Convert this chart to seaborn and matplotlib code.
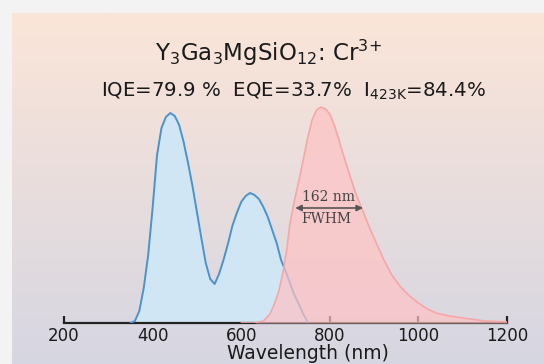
import numpy as np
import pandas as pd
import matplotlib
matplotlib.use("Agg")
import matplotlib.pyplot as plt
import seaborn as sns

# excitation-like (blue) band, wavelength in nm, intensity in a.u.
blue_nm = [350, 360, 370, 380, 390, 400, 410, 420, 430, 440, 450, 460, 470, 480, 490,
           500, 510, 520, 530, 540, 550, 560, 570, 580, 590, 600, 610, 620, 630, 640,
           650, 660, 670, 680, 690, 700, 710, 720, 730, 740, 750]
blue_int = [0, 2, 12, 35, 68, 115, 168, 195, 206, 210, 207, 198, 181, 160, 137,
            111, 85, 60, 44, 39, 49, 63, 79, 97, 110, 121, 127, 130, 128, 124,
            116, 106, 93, 80, 63, 52, 40, 28, 19, 9, 1]

# emission (red) band
red_nm = [600, 630, 650, 665, 675, 685, 695, 703, 710, 720, 730, 740, 750, 760, 770,
          780, 790, 800, 810, 820, 830, 840, 850, 860, 870, 880, 890, 900, 920, 940,
          960, 980, 1000, 1020, 1040, 1070, 1100, 1150, 1200]
red_int = [0, 0, 2, 9, 19, 32, 52, 74, 99, 122, 142, 163, 185, 203, 213,
           216, 214, 209, 198, 184, 169, 155, 141, 128, 117, 106, 95, 85, 65, 48,
           36, 27, 20, 14, 10, 7, 5, 2, 1]

x_ticks = [200, 400, 600, 800, 1000, 1200]

df_blue = pd.DataFrame({"wl": blue_nm, "I": blue_int})
df_red = pd.DataFrame({"wl": red_nm, "I": red_int})

sns.set_theme(style="white")
plt.rcParams["font.family"] = ["DejaVu Sans"]
plt.rcParams["mathtext.default"] = "regular"

fig = plt.figure(figsize=(5.44, 3.64), dpi=100, facecolor="#f3f3f3")

# gradient panel behind the plot
bg = fig.add_axes([11.5 / 544, 0, 1 - 11.5 / 544, (364 - 13) / 364], zorder=-1)
top = np.array([251, 229, 216]) / 255
bot = np.array([214, 214, 226]) / 255
t = np.linspace(0, 1, 200)[:, None]
grad = (top * (1 - t) + bot * t)[:, None, :]
bg.imshow(grad, aspect="auto", extent=[0, 1, 0, 1])
bg.set_axis_off()

ax = fig.add_axes([64 / 544, 41 / 364, 443 / 544, 263 / 364])
ax.set_facecolor("none")

ax.fill_between(df_blue["wl"], df_blue["I"], color="#d0e6f5", zorder=2)
sns.lineplot(data=df_blue, x="wl", y="I", ax=ax, color="#4b93c9", lw=1.4, zorder=3)
ax.fill_between(df_red["wl"], df_red["I"], color="#ffc2c4", alpha=0.7, lw=0, zorder=4)
sns.lineplot(data=df_red, x="wl", y="I", ax=ax, color="#f7a6a6", lw=1.2, zorder=5)

ax.set_xlim(200, 1200)
ax.set_ylim(0, 263)
ax.set_xticks(x_ticks)
ax.set_xticklabels([str(v) for v in x_ticks], fontsize=12, color="#1a1a1a")
ax.set_yticks([])
ax.set_xlabel("")
ax.set_ylabel("")
for s in ["top", "left", "right"]:
    ax.spines[s].set_visible(False)
ax.spines["bottom"].set_color("#222222")
ax.spines["bottom"].set_linewidth(1.6)
ax.tick_params(axis="x", direction="in", length=5, width=1.6, color="#222222", pad=3,
               bottom=True)

# FWHM marker
ax.annotate("", xy=(722, 115), xytext=(875, 115),
            arrowprops=dict(arrowstyle="<|-|>", color="#555555", lw=1.2,
                            mutation_scale=9, shrinkA=0, shrinkB=0), zorder=6)
ax.text(796, 126, "162 nm", fontsize=10, family="DejaVu Serif", color="#444444",
        ha="center", va="center", zorder=6)
ax.text(791, 104, "FWHM", fontsize=10, family="DejaVu Serif", color="#444444",
        ha="center", va="center", zorder=6)

fig.text(268 / 544, (364 - 61) / 364, r"Y$_3$Ga$_3$MgSiO$_{12}$: Cr$^{3{+}}$",
         fontsize=16.5, ha="center", va="baseline", color="#1a1a1a")
fig.text(294 / 544, (364 - 97) / 364,
         r"IQE=79.9 %  EQE=33.7%  I$_{423K}$=84.4%",
         fontsize=14.2, ha="center", va="baseline", color="#1a1a1a")
fig.text(308 / 544, (364 - 359) / 364, "Wavelength (nm)", fontsize=13.5,
         ha="center", va="baseline", color="#1a1a1a")

fig.savefig("out.png", dpi=100, facecolor=fig.get_facecolor())
